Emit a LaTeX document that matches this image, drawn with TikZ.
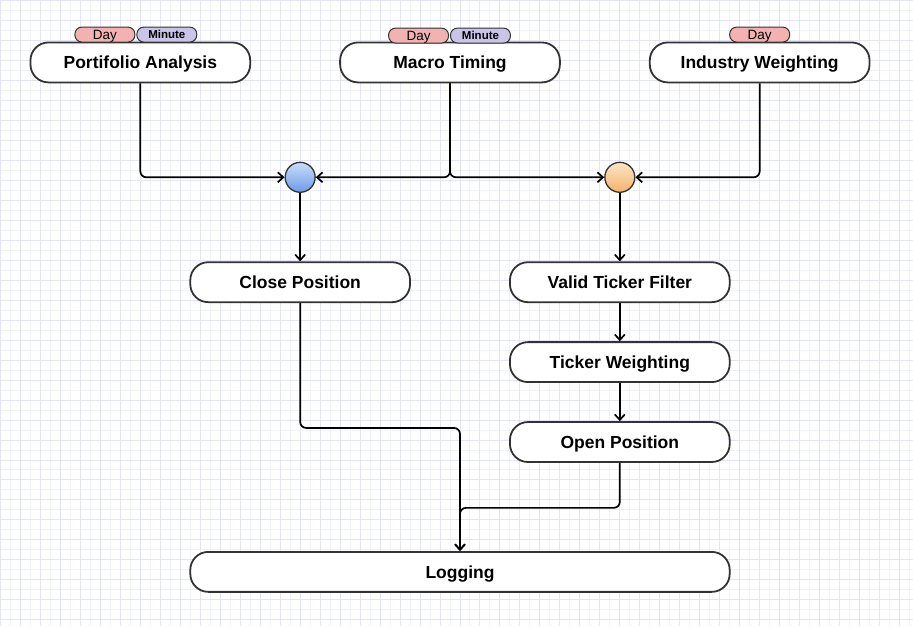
\documentclass[tikz,border=0pt]{standalone}
\usepackage{fontspec}
\setmainfont{Liberation Sans}
\usetikzlibrary{positioning,arrows.meta}
\definecolor{gridlight}{HTML}{F1F1FC}
\definecolor{griddark}{HTML}{E3E3FA}
\definecolor{dayfill}{HTML}{F2B2B2}
\definecolor{minfill}{HTML}{C9C4E8}
\definecolor{bluetop}{HTML}{CADCF8}
\definecolor{bluebot}{HTML}{6C9CEA}
\definecolor{orgtop}{HTML}{FDE5C6}
\definecolor{orgbot}{HTML}{F5B26C}
\definecolor{edge}{HTML}{333333}

\begin{document}
\begin{tikzpicture}[x=1pt,y=-1pt,
    task/.style={draw=edge, line width=1.8pt, fill=white, rounded corners=18pt,
      minimum width=220pt, minimum height=40pt, inner sep=0pt,
      text height=12.5pt, text depth=0pt,
      font=\fontsize{17.5}{20}\selectfont\bfseries},
    tag/.style={draw=edge, line width=1pt, rounded corners=7pt,
      minimum width=60pt, minimum height=15pt, inner sep=0pt, text depth=0pt},
    day/.style={tag, fill=dayfill, text height=9.6pt, font=\fontsize{13.5}{14}\selectfont},
    minute/.style={tag, fill=minfill, text height=8.2pt, font=\fontsize{11.5}{12}\selectfont\bfseries},
    junction/.style={circle, draw=edge, line width=1.3pt, minimum size=30pt, inner sep=0pt},
    flow/.style={line width=1.7pt, rounded corners=6pt,
      -{Straight Barb[length=5.5pt,width=10pt]}}]
    % background grid
    \fill[white] (0,0) rectangle (913,626);
    \foreach \x in {10,30,...,910} \draw[gridlight, line width=1pt] (\x,0) -- (\x,626);
    \foreach \y in {10,30,...,620} \draw[gridlight, line width=1pt] (0,\y) -- (913,\y);
    \foreach \x in {0,20,...,900} \draw[griddark, line width=1pt] (\x,0) -- (\x,626);
    \foreach \y in {0,20,...,620} \draw[griddark, line width=1pt] (0,\y) -- (913,\y);

    % sources
    \node[task] (pa) at (140,62) {Portifolio Analysis};
    \node[task] (mt) at (450,62) {Macro Timing};
    \node[task] (iw) at (760,62) {Industry Weighting};
    \node[day, anchor=south east] (pa-day) at ([xshift=-5pt,yshift=-1pt]pa.north) {Day};
    \node[minute, right=1pt of pa-day] (pa-min) {Minute};
    \node[day, anchor=south east] (mt-day) at ([xshift=-1pt,yshift=-2pt]mt.north) {Day};
    \node[minute, right=1pt of mt-day] (mt-min) {Minute};
    \node[day, anchor=south] (iw-day) at ([yshift=-1pt]iw.north) {Day};

    % junctions
    \node[junction, top color=bluetop, bottom color=bluebot] (jb) at (300,177) {};
    \node[junction, top color=orgtop, bottom color=orgbot] (jo) at (620,177) {};

    % actions
    \node[task] (cp) at (300,282) {Close Position};
    \node[task] (vt) at (620,282) {Valid Ticker Filter};
    \node[task] (tw) at (620,362) {Ticker Weighting};
    \node[task] (op) at (620,442) {Open Position};
    \node[task, minimum width=540pt] (lg) at (460,572) {Logging};

    \draw[flow] (pa.south) |- (jb.west);
    \draw[flow] (mt.south) |- (jb.east);
    \draw[flow] (mt.south) |- (jo.west);
    \draw[flow] (iw.south) |- (jo.east);
    \draw[flow] (jb) -- (cp);
    \draw[flow] (jo) -- (vt);
    \draw[flow] (vt) -- (tw);
    \draw[flow] (tw) -- (op);
    \draw[flow] (cp.south) -- ++(0,125) -| (lg.north);
    \draw[flow] (op.south) -- ++(0,45) -| (lg.north);
\end{tikzpicture}
\end{document}
